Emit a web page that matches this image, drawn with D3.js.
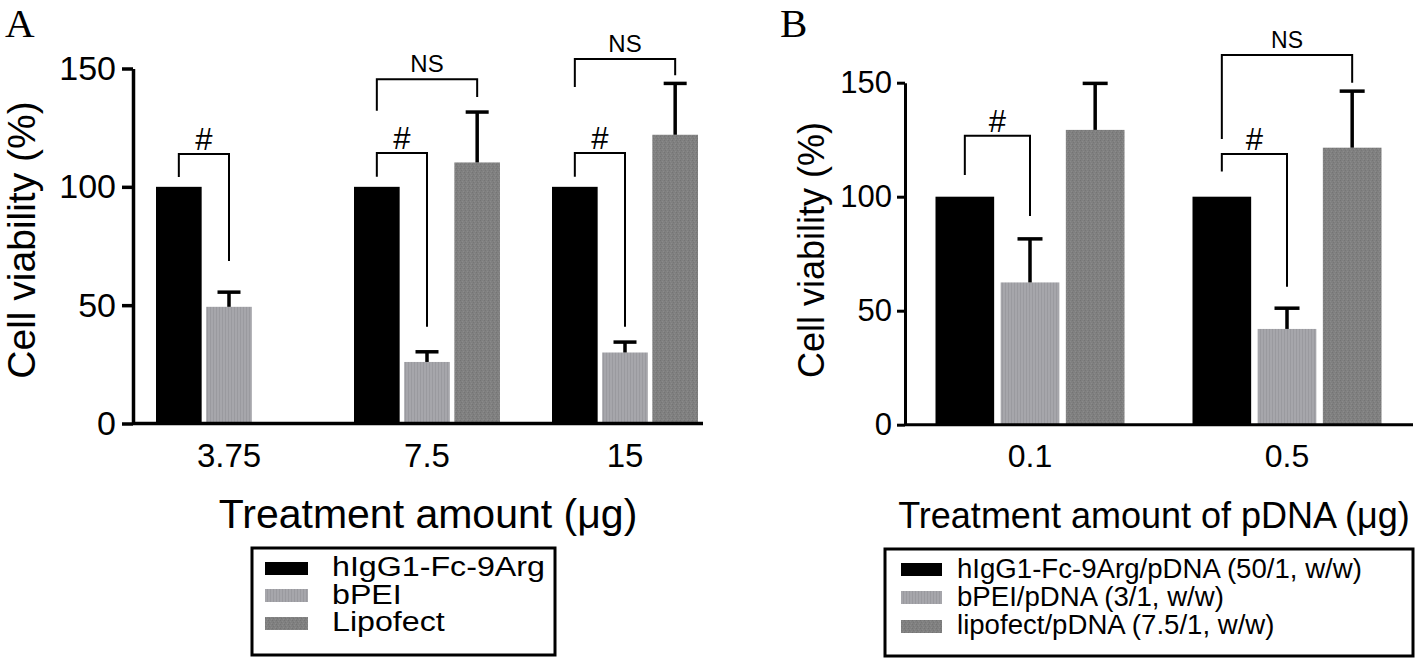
<!DOCTYPE html>
<html><head><meta charset="utf-8">
<script src="https://cdn.jsdelivr.net/npm/d3@7"></script>
<style>
body{margin:0;background:#fff}
svg{display:block}
text{font-family:"Liberation Sans",Arial,Helvetica,sans-serif;fill:#000}
</style>
</head><body>
<svg id="c" width="1418" height="658"></svg>
<script>
// ---------- data ----------
const seriesA = ["hIgG1-Fc-9Arg", "bPEI", "Lipofect"];
const seriesB = ["hIgG1-Fc-9Arg/pDNA (50/1, w/w)", "bPEI/pDNA (3/1, w/w)", "lipofect/pDNA (7.5/1, w/w)"];

const categoriesA = ["3.75", "7.5", "15"];
const hIgGA    = [100, 100, 100];
const bPEIA    = [49.3, 26, 30];
const bPEIErrA = [6.2, 4.3, 4.4];
const lipoA    = [null, 110.3, 122];
const lipoErrA = [null, 21.3, 21.7];

const categoriesB = ["0.1", "0.5"];
const hIgGB    = [100, 100];
const bPEIB    = [62.4, 42];
const bPEIErrB = [19.1, 9.1];
const lipoB    = [129.3, 121.5];
const lipoErrB = [20.4, 24.8];

const yTicks = [0, 50, 100, 150];

// [category index, from series, to series, top value, left end value, right end value, label]
const bracketsA = [
  [0, 0, 1, 113.9, 104.2, 68.7, "#"],
  [1, 0, 1, 114.3, 104.3, 40.9, "#"],
  [1, 0, 2, 145.5, 132.2, 138, "NS"],
  [2, 0, 1, 114.3, 104.3, 40.9, "#"],
  [2, 0, 2, 154, 142.2, 147.2, "NS"]
];
const bracketsB = [
  [0, 0, 1, 126.7, 109.5, 91.5, "#"],
  [1, 0, 1, 118.7, 111, 60.5, "#"],
  [1, 0, 2, 162.1, 125.3, 150, "NS"]
];

const xTitleA = "Treatment amount (\u03bcg)";
const xTitleB = "Treatment amount of pDNA (\u03bcg)";
const yTitle = "Cell viability (%)";

// ---------- drawing ----------
const svg = d3.select("#c");
const defs = svg.append("defs");

const pb = defs.append("pattern").attr("id", "pBPEI").attr("patternUnits", "userSpaceOnUse")
  .attr("width", 3).attr("height", 4);
pb.append("rect").attr("width", 3).attr("height", 4).attr("fill", "#a6a6ab");
pb.append("rect").attr("width", 1).attr("height", 4).attr("fill", "#9a9a9f");

const pl = defs.append("pattern").attr("id", "pLipo").attr("patternUnits", "userSpaceOnUse")
  .attr("width", 4).attr("height", 4);
pl.append("rect").attr("width", 4).attr("height", 4).attr("fill", "#808080");
pl.append("rect").attr("x", 0).attr("y", 0).attr("width", 1).attr("height", 1).attr("fill", "#747474");
pl.append("rect").attr("x", 2).attr("y", 1).attr("width", 1).attr("height", 1).attr("fill", "#8a8a8a");
pl.append("rect").attr("x", 1).attr("y", 2).attr("width", 1).attr("height", 1).attr("fill", "#767676");
pl.append("rect").attr("x", 3).attr("y", 3).attr("width", 1).attr("height", 1).attr("fill", "#8b8b8b");

const fills = ["#000000", "url(#pBPEI)", "url(#pLipo)"];

function panel(cfg) {
  const g = svg.append("g");
  const y = d3.scaleLinear().domain([0, 150]).range([cfg.y0, cfg.y150]);
  const xb = d3.scaleBand().domain(cfg.categories).range(cfg.bandRange).padding(0);
  const inner = d3.scaleBand().domain([0, 1, 2]).range([0, cfg.groupW]).paddingInner(cfg.innerPad).paddingOuter(0);
  const gx = c => xb(c) + xb.bandwidth() / 2 - cfg.groupW / 2;
  const barCx = (ci, s) => gx(cfg.categories[ci]) + inner(s) + inner.bandwidth() / 2;

  const seriesVals = [cfg.v0, cfg.v1, cfg.v2];
  const seriesErr = [null, cfg.e1, cfg.e2];

  const recs = [];
  cfg.categories.forEach((c, i) => {
    seriesVals.forEach((arr, s) => {
      if (arr[i] == null) return;
      recs.push({ c, i, s, v: arr[i], e: seriesErr[s] ? seriesErr[s][i] : null });
    });
  });
  g.selectAll("rect.bar").data(recs).join("rect").attr("class", "bar")
    .attr("x", d => gx(d.c) + inner(d.s))
    .attr("width", inner.bandwidth())
    .attr("y", d => y(d.v))
    .attr("height", d => y(0) - y(d.v))
    .attr("fill", d => fills[d.s]);

  const eb = recs.filter(d => d.e != null);
  g.selectAll("line.err").data(eb).join("line").attr("class", "err")
    .attr("x1", d => barCx(d.i, d.s)).attr("x2", d => barCx(d.i, d.s))
    .attr("y1", d => y(d.v)).attr("y2", d => y(d.v + d.e))
    .attr("stroke", "#000").attr("stroke-width", cfg.errW);
  g.selectAll("line.cap").data(eb).join("line").attr("class", "cap")
    .attr("x1", d => barCx(d.i, d.s) - cfg.capW / 2).attr("x2", d => barCx(d.i, d.s) + cfg.capW / 2)
    .attr("y1", d => y(d.v + d.e)).attr("y2", d => y(d.v + d.e))
    .attr("stroke", "#000").attr("stroke-width", cfg.errW);

  g.selectAll("path.br").data(cfg.brackets).join("path").attr("class", "br")
    .attr("d", d => {
      const xl = barCx(d[0], d[1]), xr = barCx(d[0], d[2]);
      return `M${xl},${y(d[4])}V${y(d[3])}H${xr}V${y(d[5])}`;
    })
    .attr("fill", "none").attr("stroke", "#000").attr("stroke-width", 2);
  g.selectAll("text.brl").data(cfg.brackets).join("text").attr("class", "brl")
    .attr("x", d => (barCx(d[0], d[1]) + barCx(d[0], d[2])) / 2)
    .attr("y", d => y(d[3]) - (d[6] === "NS" ? 7 : 4))
    .attr("text-anchor", "middle")
    .attr("font-size", d => d[6] === "NS" ? cfg.nsSize : cfg.hashSize)
    .text(d => d[6]);

  const ya = g.append("g").attr("transform", `translate(${cfg.axisX},0)`)
    .call(d3.axisLeft(y).tickValues(yTicks).tickSize(cfg.tickLen).tickSizeOuter(0).tickPadding(cfg.tickPad));
  ya.select(".domain").attr("stroke", "#000").attr("stroke-width", cfg.axisW);
  ya.selectAll(".tick line").attr("stroke", "#000").attr("stroke-width", cfg.axisW);
  ya.selectAll(".tick text").attr("font-size", cfg.yTickSize).attr("font-family", null);

  const xa = g.append("g").attr("transform", `translate(0,${cfg.y0})`)
    .call(d3.axisBottom(xb).tickSize(0).tickPadding(cfg.xPad));
  xa.select(".domain").remove();
  xa.selectAll(".tick text").attr("font-size", cfg.xTickSize).attr("font-family", null);
  g.append("line").attr("x1", cfg.axisX).attr("x2", cfg.xEnd).attr("y1", cfg.y0).attr("y2", cfg.y0)
    .attr("stroke", "#000").attr("stroke-width", cfg.axisW);

  g.append("text").attr("x", cfg.xTitle[0]).attr("y", cfg.xTitle[1]).attr("text-anchor", "middle")
    .attr("font-size", cfg.xTitleSize).text(cfg.xTitleText);
  g.append("text").attr("transform", `translate(${cfg.yTitle[0]},${cfg.yTitle[1]}) rotate(-90)`)
    .attr("text-anchor", "middle").attr("font-size", cfg.yTitleSize).text(yTitle);

  g.append("text").attr("x", cfg.letter[0]).attr("y", cfg.letter[1])
    .style("font-family", '"Liberation Serif","Times New Roman",serif').attr("font-size", 41).text(cfg.letterText);

  // legend
  const L = cfg.legend;
  g.append("rect").attr("x", L.x).attr("y", L.y).attr("width", L.w).attr("height", L.h)
    .attr("fill", "none").attr("stroke", "#000").attr("stroke-width", 3);
  const li = g.selectAll("g.li").data(cfg.series).join("g").attr("class", "li");
  li.append("rect").attr("x", L.sx).attr("y", (d, i) => L.sy[i]).attr("width", L.sw).attr("height", L.sh)
    .attr("fill", (d, i) => fills[i]);
  const lt = li.append("text").attr("x", 0).attr("y", 0).attr("font-size", L.fs).text(d => d);
  const w0 = lt.nodes()[0].getComputedTextLength();
  const k = L.firstWidth / w0;
  lt.attr("transform", (d, i) => `translate(${L.tx},${L.ty[i]}) scale(${k},1)`);
}

panel({
  categories: categoriesA, series: seriesA,
  v0: hIgGA, v1: bPEIA, v2: lipoA, e1: bPEIErrA, e2: lipoErrA,
  brackets: bracketsA,
  y0: 423.5, y150: 68.5, axisX: 133, xEnd: 703,
  bandRange: [130, 724], groupW: 146, innerPad: 0.09,
  axisW: 3.5, tickLen: 11, tickPad: 6, yTickSize: 34, xTickSize: 33, xPad: 20,
  errW: 3.5, capW: 23, hashSize: 31, nsSize: 24,
  xTitle: [428, 528], xTitleSize: 41, xTitleText: xTitleA,
  yTitle: [35, 240], yTitleSize: 39,
  letter: [5, 37], letterText: "A",
  legend: { x: 252, y: 548, w: 303, h: 107, sx: 265, sw: 43, sh: 13, sy: [562, 589, 617],
            tx: 332, ty: [576, 604, 631], fs: 27, firstWidth: 213 }
});

panel({
  categories: categoriesB, series: seriesB,
  v0: hIgGB, v1: bPEIB, v2: lipoB, e1: bPEIErrB, e2: lipoErrB,
  brackets: bracketsB,
  y0: 424.7, y150: 82.7, axisX: 905, xEnd: 1413,
  bandRange: [901.5, 1415.5], groupW: 189, innerPad: 0.1,
  axisW: 3, tickLen: 8, tickPad: 5, yTickSize: 31, xTickSize: 32, xPad: 20,
  errW: 3.5, capW: 25, hashSize: 31, nsSize: 23,
  xTitle: [1154, 528], xTitleSize: 36, xTitleText: xTitleB,
  yTitle: [824, 250], yTitleSize: 36,
  letter: [780, 37], letterText: "B",
  legend: { x: 885, y: 549, w: 528, h: 107, sx: 901, sw: 41, sh: 13, sy: [563, 591, 620],
            tx: 957, ty: [578, 606, 634], fs: 27, firstWidth: 405 }
});
</script>
</body></html>
